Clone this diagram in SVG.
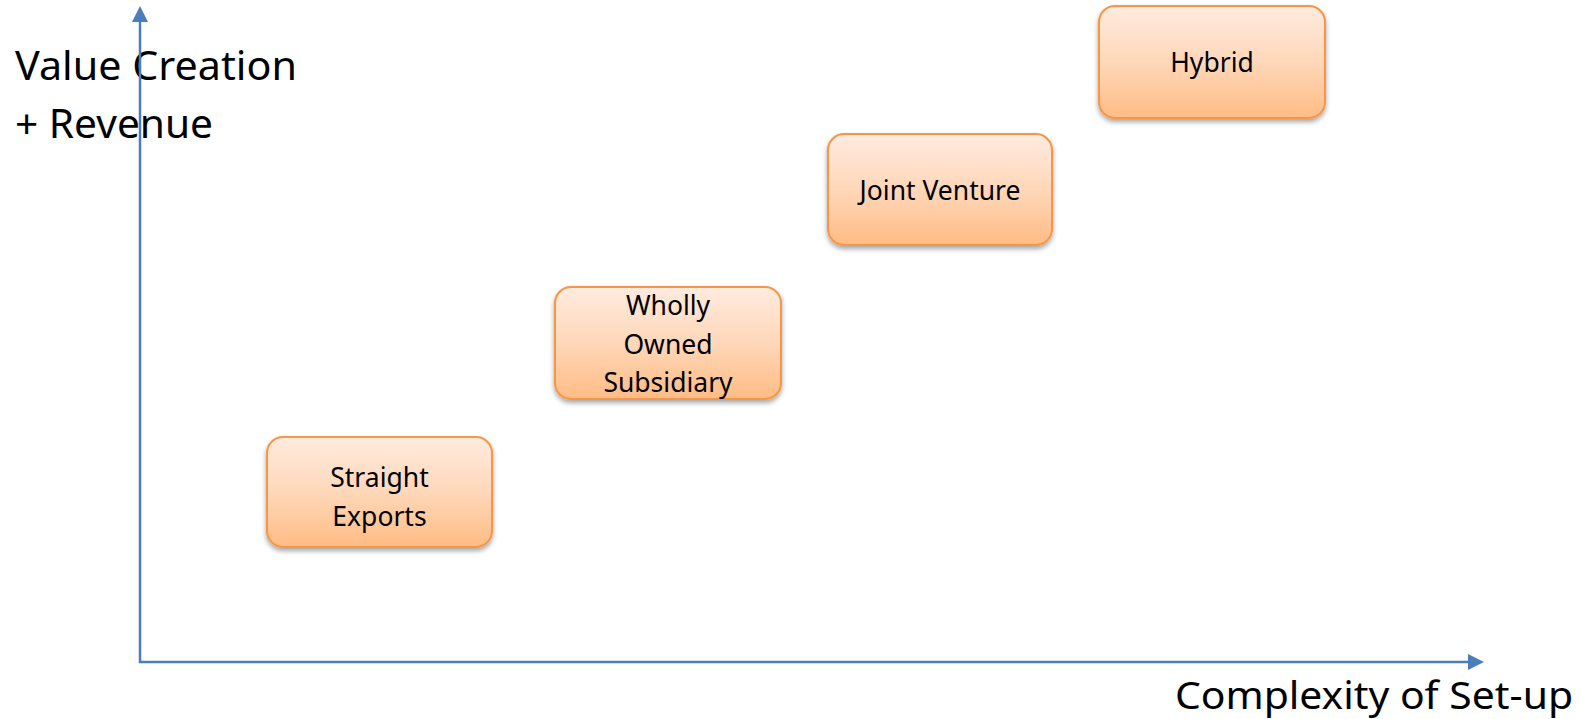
<svg xmlns="http://www.w3.org/2000/svg" width="1581" height="719" viewBox="0 0 1581 719">
  <style>
    .axis-label { font-family: "Noto Sans", "Open Sans", sans-serif; font-size: 40px; fill: #000; }
    .axis-label.bottom { font-size: 38px; }
    .node-box { fill: url(#boxFill); stroke: #F79646; stroke-width: 2; filter: url(#boxShadow); }
    .node-text { font-family: "Noto Sans", "Open Sans", sans-serif; font-size: 26.5px; fill: #000; text-anchor: middle; }
    .axis-line { stroke: #4A7EBB; stroke-width: 2.5; fill: none; }
    .axis-head { fill: #4A7EBB; }
  </style>
  <defs>
    <linearGradient id="boxFill" x1="0" y1="0" x2="0" y2="1">
      <stop offset="0" stop-color="#FFEBDF"/>
      <stop offset="0.5" stop-color="#FFD7B9"/>
      <stop offset="1" stop-color="#FFBC84"/>
    </linearGradient>
    <filter id="boxShadow" x="-10%" y="-10%" width="120%" height="130%">
      <feDropShadow dx="0" dy="3" stdDeviation="2.5" flood-color="#000" flood-opacity="0.35"/>
    </filter>
  </defs>

  <rect width="1581" height="719" fill="#fff"/>

  <!-- axis titles -->
  <g id="y-axis-label">
    <text class="axis-label" x="15" y="80" textLength="282" lengthAdjust="spacingAndGlyphs">Value Creation</text>
    <text class="axis-label" x="15" y="138" textLength="198" lengthAdjust="spacingAndGlyphs">+ Revenue</text>
  </g>
  <g id="x-axis-label">
    <text class="axis-label bottom" x="1175" y="709" textLength="398" lengthAdjust="spacingAndGlyphs">Complexity of Set-up</text>
  </g>

  <!-- entry modes -->
  <g id="straight-exports">
    <rect class="node-box" x="267" y="437" width="225" height="110" rx="16"/>
    <text class="node-text" x="379.5" y="487">Straight</text>
    <text class="node-text" x="379.5" y="526">Exports</text>
  </g>
  <g id="wholly-owned-subsidiary">
    <rect class="node-box" x="555" y="287" width="226" height="112" rx="16"/>
    <text class="node-text" x="668" y="315">Wholly</text>
    <text class="node-text" x="668" y="354">Owned</text>
    <text class="node-text" x="668" y="392">Subsidiary</text>
  </g>
  <g id="joint-venture">
    <rect class="node-box" x="828" y="134" width="224" height="111" rx="16"/>
    <text class="node-text" x="940" y="200">Joint Venture</text>
  </g>
  <g id="hybrid">
    <rect class="node-box" x="1099" y="6" width="226" height="112" rx="16"/>
    <text class="node-text" x="1212" y="72">Hybrid</text>
  </g>

  <!-- axes -->
  <g id="connectors">
    <line class="axis-line" x1="140" y1="663" x2="140" y2="21"/>
    <polygon class="axis-head" points="140,6 132,22 148,22"/>
    <line class="axis-line" x1="139" y1="662" x2="1469" y2="662"/>
    <polygon class="axis-head" points="1484,662 1468,654 1468,670"/>
  </g>
</svg>
